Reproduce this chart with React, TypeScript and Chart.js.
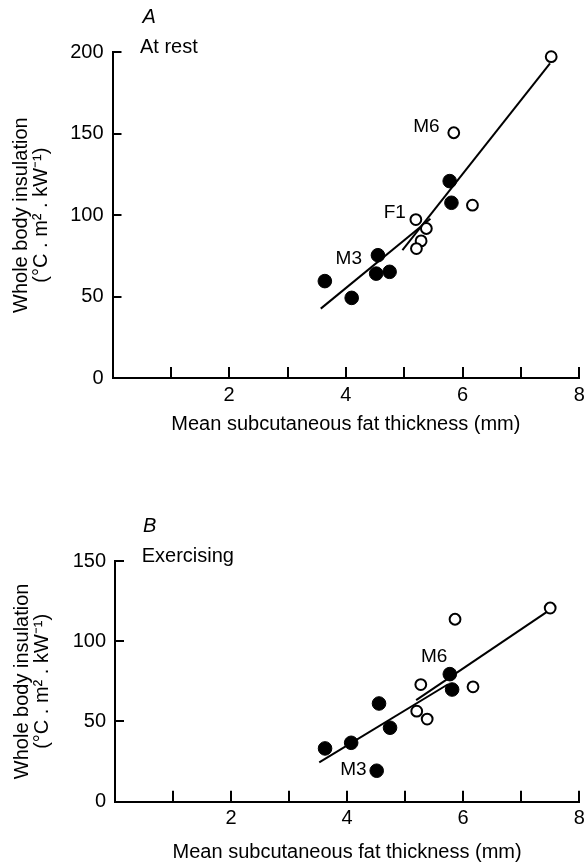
import React, { useEffect, useRef } from 'react';
import { Chart, registerables } from 'chart.js';

Chart.register(...registerables);

const FONT = '"Liberation Sans", Arial, Helvetica, sans-serif';

// Shared axis text
const xTitle = 'Mean subcutaneous fat thickness (mm)';
const yTitle = ['Whole body insulation', '(°C . m² . kW⁻¹)'];
const xTickLabels = [2, 4, 6, 8];
const xTickMarks = [1, 2, 3, 4, 5, 6, 7, 8];

// Panel A – At rest
const restYTicks = [0, 50, 100, 150, 200];
const restFilledX = [3.64, 4.1, 4.55, 4.52, 4.75, 5.78, 5.81];
const restFilledY = [59.5, 49.2, 75.4, 64.1, 65.2, 120.9, 107.6];
const restOpenX = [7.52, 5.85, 6.17, 5.2, 5.38, 5.29, 5.21];
const restOpenY = [197.3, 150.6, 106.1, 97.3, 91.8, 84.2, 79.5];
const restLine1X = [3.57, 5.45];
const restLine1Y = [42.6, 97.8];
const restLine2X = [4.97, 7.5];
const restLine2Y = [78.5, 193.2];
const restLabels = ['M6', 'F1', 'M3'];
const restLabelX = [5.38, 4.84, 4.05];
const restLabelY = [154.5, 101.2, 73.4];

// Panel B – Exercising
const exYTicks = [0, 50, 100, 150];
const exFilledX = [3.62, 4.07, 4.55, 4.74, 4.51, 5.77, 5.81];
const exFilledY = [33.2, 36.7, 61.2, 46.1, 19.3, 79.5, 69.9];
const exOpenX = [7.5, 5.86, 6.17, 5.27, 5.2, 5.38];
const exOpenY = [120.7, 113.7, 71.6, 73.0, 56.4, 51.5];
const exLine1X = [3.52, 5.74];
const exLine1Y = [24.5, 73.2];
const exLine2X = [5.19, 7.45];
const exLine2Y = [63.3, 118.5];
const exLabels = ['M6', 'M3'];
const exLabelX = [5.5, 4.11];
const exLabelY = [90.2, 19.7];

const pts = (xs: number[], ys: number[]) => xs.map((x, i) => ({ x, y: ys[i] }));

const decoPlugin = {
  id: 'deco',
  beforeDatasetsDraw(chart: any, _a: any, opts: any) {
    const { ctx, chartArea } = chart;
    const xs = chart.scales.x;
    const ys = chart.scales.y;
    ctx.save();
    ctx.strokeStyle = '#000';
    ctx.lineWidth = 2;
    for (const v of opts.xMarks) {
      const px = Math.round(xs.getPixelForValue(v));
      ctx.beginPath();
      ctx.moveTo(px, chartArea.bottom);
      ctx.lineTo(px, chartArea.bottom - 11);
      ctx.stroke();
    }
    for (const v of opts.yMarks) {
      const py = Math.round(ys.getPixelForValue(v));
      ctx.beginPath();
      ctx.moveTo(chartArea.left, py);
      ctx.lineTo(chartArea.left + 9, py);
      ctx.stroke();
    }
    ctx.restore();
  },
  afterDraw(chart: any, _a: any, opts: any) {
    const { ctx, chartArea } = chart;
    const xs = chart.scales.x;
    const ys = chart.scales.y;
    ctx.save();
    ctx.fillStyle = '#000';
    ctx.textBaseline = 'alphabetic';
    ctx.textAlign = 'left';
    ctx.font = `italic 20px ${FONT}`;
    ctx.fillText(opts.letter, chartArea.left + opts.letterDx, chartArea.top - 29.5);
    ctx.font = `20px ${FONT}`;
    ctx.fillText(opts.condition, chartArea.left + opts.condDx, chartArea.top + 1);
    ctx.font = `19px ${FONT}`;
    ctx.textAlign = 'center';
    ctx.textBaseline = 'middle';
    opts.labels.forEach((t: string, i: number) => {
      ctx.fillText(t, xs.getPixelForValue(opts.labelX[i]), ys.getPixelForValue(opts.labelY[i]));
    });
    ctx.restore();
  },
};

type PanelProps = {
  top: number;
  height: number;
  padTop: number;
  padRight: number;
  axisLeft: number;
  axisBottom: number;
  yMax: number;
  yTicks: number[];
  filledX: number[];
  filledY: number[];
  openX: number[];
  openY: number[];
  l1x: number[];
  l1y: number[];
  l2x: number[];
  l2y: number[];
  letter: string;
  letterDx: number;
  condition: string;
  condDx: number;
  labels: string[];
  labelX: number[];
  labelY: number[];
  yTitlePad: number;
};

function Panel(p: PanelProps) {
  const ref = useRef<HTMLCanvasElement>(null);
  useEffect(() => {
    if (!ref.current) return;
    const lineDs = (xs: number[], ys: number[]) => ({
      data: pts(xs, ys),
      showLine: true,
      borderColor: '#000',
      borderWidth: 2,
      pointRadius: 0,
      clip: false,
      order: 3,
    });
    const chart = new Chart(ref.current, {
      type: 'scatter',
      data: {
        datasets: [
          lineDs(p.l1x, p.l1y),
          lineDs(p.l2x, p.l2y),
          {
            data: pts(p.openX, p.openY),
            pointRadius: 5.4,
            pointBackgroundColor: '#fff',
            pointBorderColor: '#000',
            pointBorderWidth: 2,
            clip: false,
            order: 1,
          },
          {
            data: pts(p.filledX, p.filledY),
            pointRadius: 6.8,
            pointBackgroundColor: '#000',
            pointBorderColor: '#000',
            pointBorderWidth: 1,
            clip: false,
            order: 0,
          },
        ] as any,
      },
      options: {
        responsive: false,
        animation: false,
        events: [],
        devicePixelRatio: 1,
        layout: { padding: { top: p.padTop, right: p.padRight, left: 0, bottom: 0 } },
        plugins: {
          legend: { display: false },
          tooltip: { enabled: false },
          deco: {
            xMarks: xTickMarks,
            yMarks: p.yTicks,
            letter: p.letter,
            letterDx: p.letterDx,
            condition: p.condition,
            condDx: p.condDx,
            labels: p.labels,
            labelX: p.labelX,
            labelY: p.labelY,
          },
        } as any,
        scales: {
          x: {
            type: 'linear',
            min: 0,
            max: 8,
            afterBuildTicks: (s: any) => {
              s.ticks = xTickLabels.map((v) => ({ value: v }));
            },
            afterFit: (s: any) => {
              s.height = p.height - p.axisBottom;
              s.paddingLeft = 0;
              s.paddingRight = 0;
            },
            ticks: {
              font: { family: FONT, size: 20 },
              color: '#000',
              padding: 5,
              maxRotation: 0,
              autoSkip: false,
            },
            grid: { display: false, drawTicks: false },
            border: { display: true, color: '#000', width: 2 },
            title: {
              display: true,
              text: xTitle,
              color: '#000',
              font: { family: FONT, size: 20, lineHeight: 1 },
              padding: { top: 0, bottom: 0 },
            },
          },
          y: {
            type: 'linear',
            min: 0,
            max: p.yMax,
            afterBuildTicks: (s: any) => {
              s.ticks = p.yTicks.map((v) => ({ value: v }));
            },
            afterFit: (s: any) => {
              s.width = p.axisLeft;
              s.paddingTop = 0;
              s.paddingBottom = 0;
            },
            ticks: {
              font: { family: FONT, size: 20 },
              color: '#000',
              padding: 9,
              autoSkip: false,
            },
            grid: { display: false, drawTicks: false },
            border: { display: true, color: '#000', width: 2 },
            title: {
              display: true,
              text: yTitle,
              color: '#000',
              font: { family: FONT, size: 20, lineHeight: 1 },
              padding: { top: p.yTitlePad, bottom: 0 },
            },
          },
        },
      } as any,
      plugins: [decoPlugin as any],
    });
    return () => chart.destroy();
  }, []);
  return (
    <canvas
      ref={ref}
      width={587}
      height={p.height}
      style={{ position: 'absolute', left: 0, top: p.top, width: 587, height: p.height, display: 'block' }}
    />
  );
}

export default function App() {
  useEffect(() => {
    document.body.style.margin = '0';
    document.body.style.background = '#fff';
  }, []);
  return (
    <div style={{ position: 'relative', width: 587, height: 862, background: '#fff', overflow: 'hidden' }}>
      <Panel
        top={0}
        height={434}
        padTop={52.3}
        padRight={5}
        axisLeft={112.5}
        axisBottom={378}
        yMax={200}
        yTicks={restYTicks}
        filledX={restFilledX}
        filledY={restFilledY}
        openX={restOpenX}
        openY={restOpenY}
        l1x={restLine1X}
        l1y={restLine1Y}
        l2x={restLine2X}
        l2y={restLine2Y}
        letter="A"
        letterDx={30}
        condition="At rest"
        condDx={27.5}
        labels={restLabels}
        labelX={restLabelX}
        labelY={restLabelY}
        yTitlePad={11.7}
      />
      <Panel
        top={431}
        height={431}
        padTop={130}
        padRight={3}
        axisLeft={115}
        axisBottom={370.7}
        yMax={150}
        yTicks={exYTicks}
        filledX={exFilledX}
        filledY={exFilledY}
        openX={exOpenX}
        openY={exOpenY}
        l1x={exLine1X}
        l1y={exLine1Y}
        l2x={exLine2X}
        l2y={exLine2Y}
        letter="B"
        letterDx={28}
        condition="Exercising"
        condDx={26.7}
        labels={exLabels}
        labelX={exLabelX}
        labelY={exLabelY}
        yTitlePad={12.5}
      />
    </div>
  );
}
